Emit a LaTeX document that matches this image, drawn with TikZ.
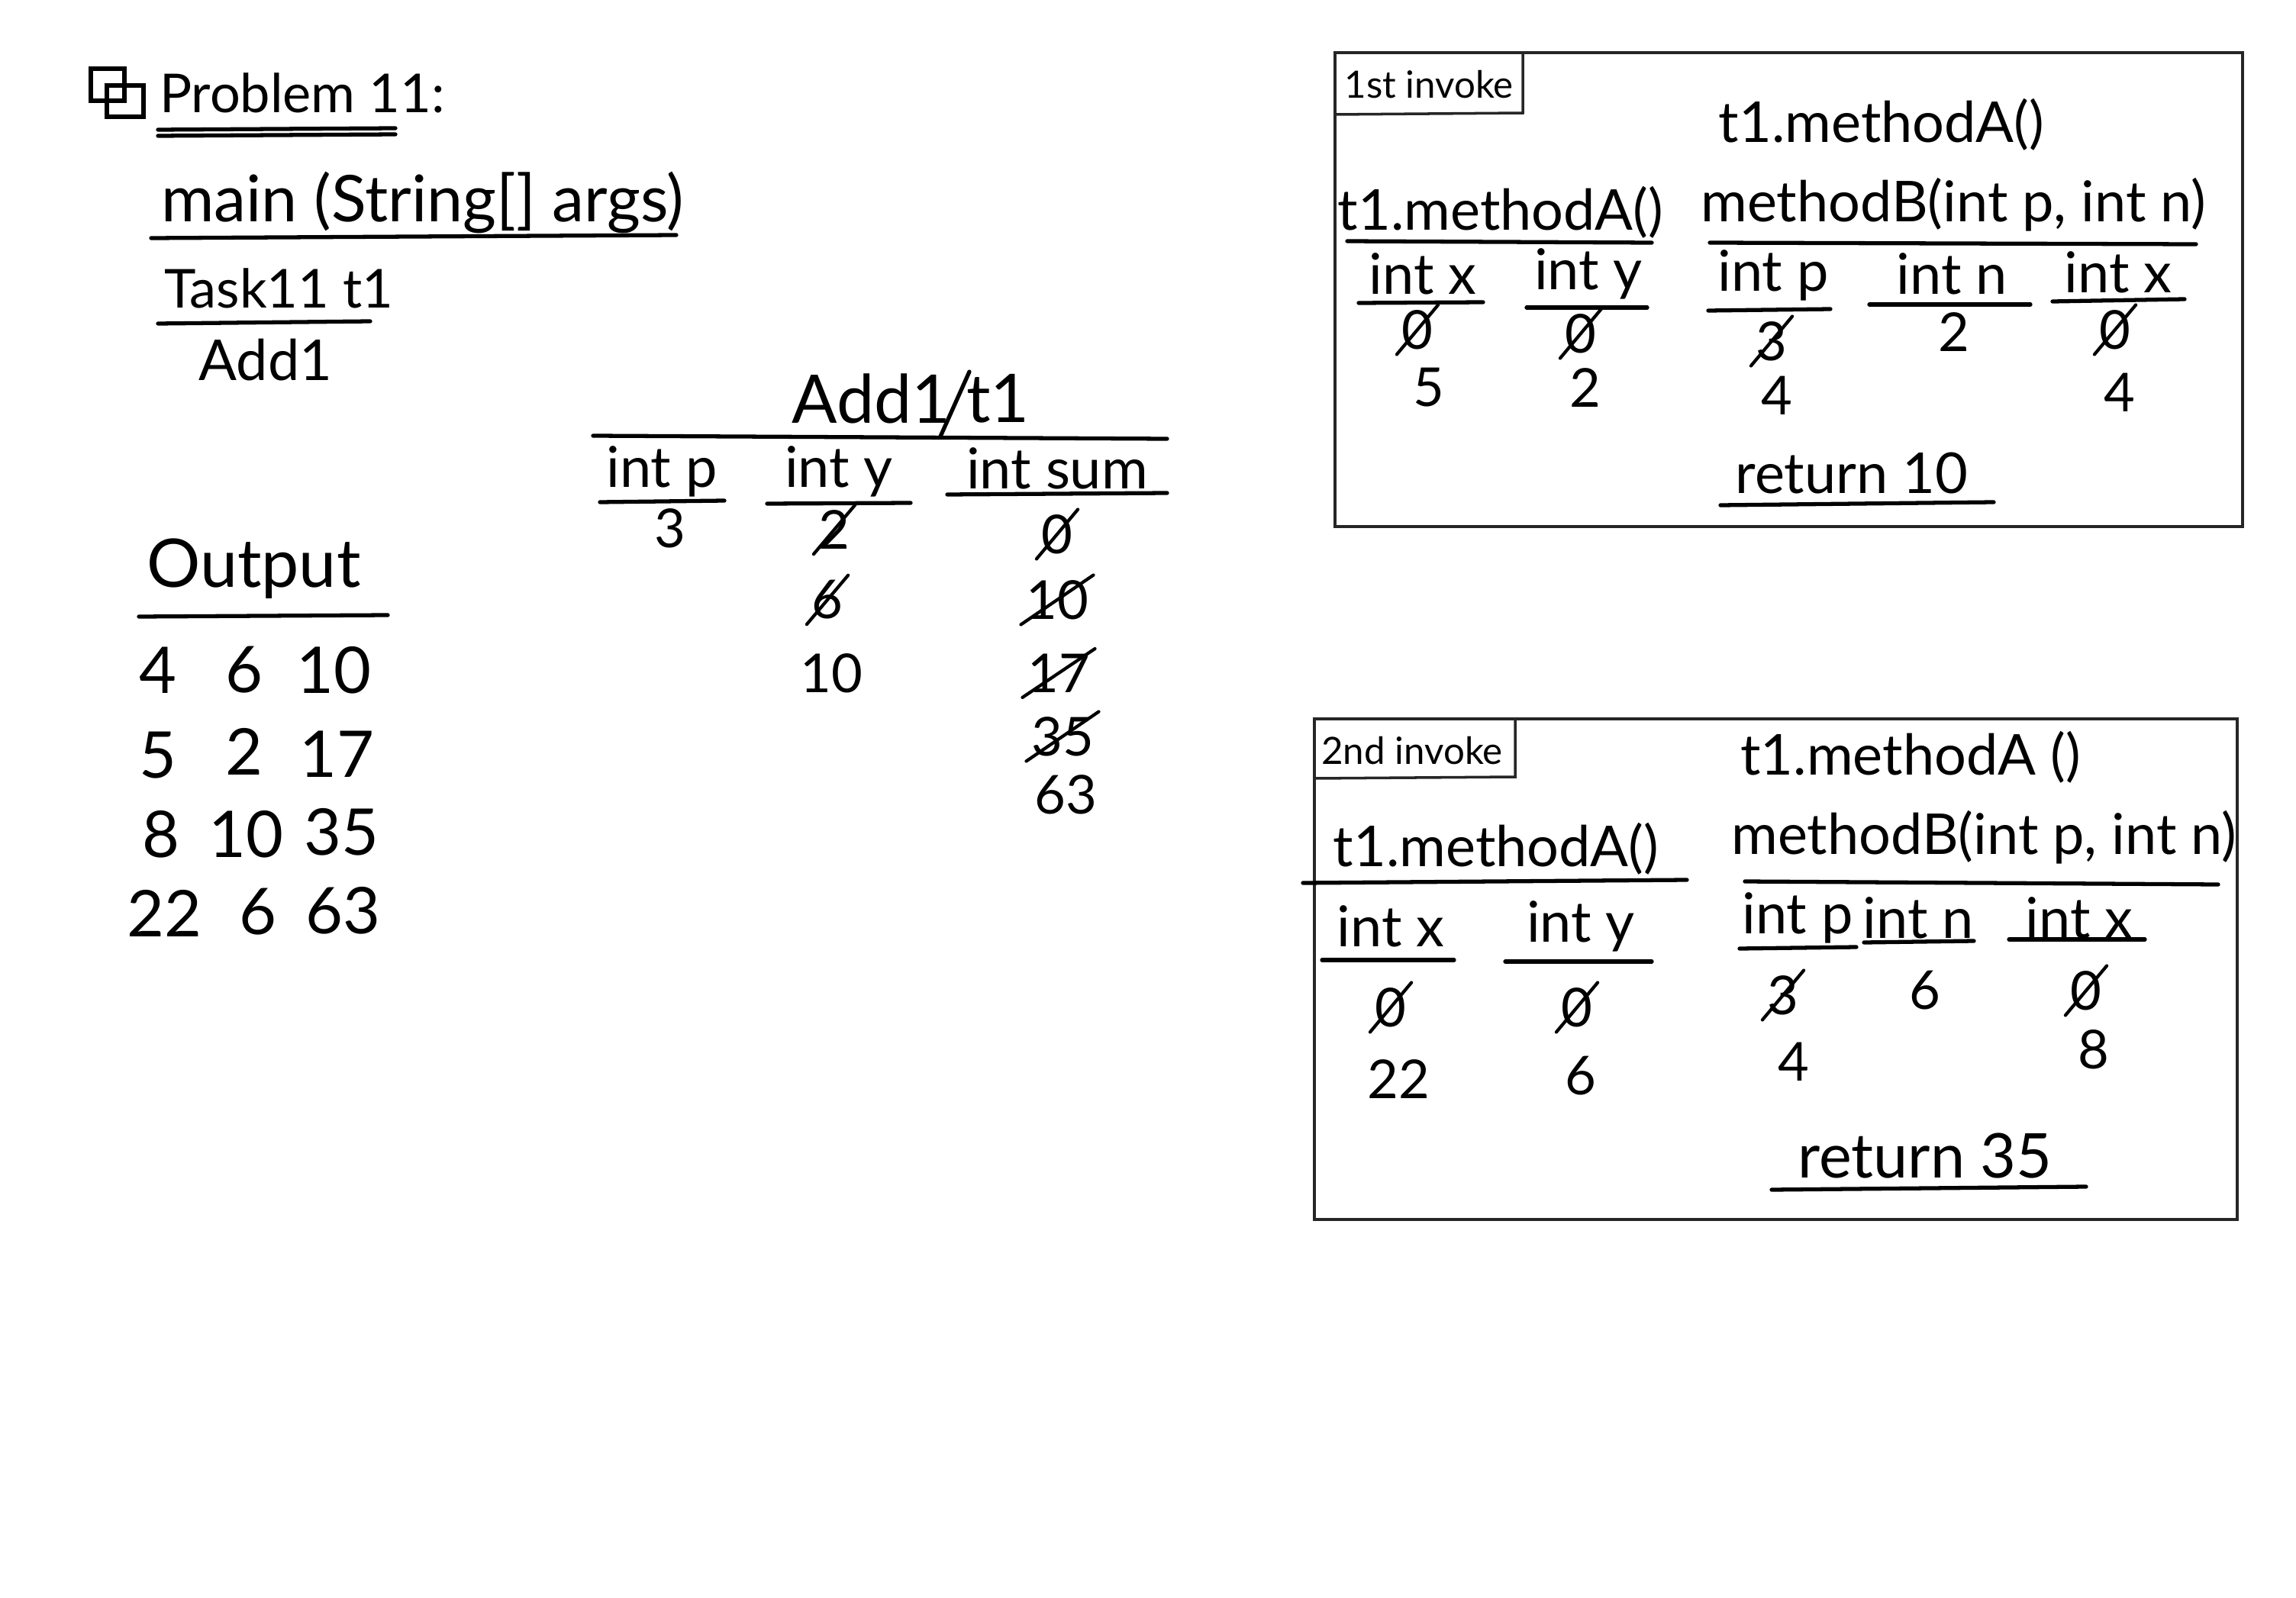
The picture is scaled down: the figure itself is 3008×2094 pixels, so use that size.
\documentclass[tikz,border=0pt]{standalone}
\usepackage{fontspec}
\setmainfont{Lato}
\newcommand\strucknum[4][val]{%
  \node[#1] (#2) at (#3) {#4};
  \draw[strk] ([shift={(-6,6)}]#2.south west) -- ([shift={(6,-6)}]#2.north east);}
\begin{document}
\begin{tikzpicture}[x=0.01cm,y=-0.01cm,
  title/.style={inner sep=1pt, font=\fontsize{21}{25}\selectfont},
  hdr/.style={inner sep=1pt, font=\fontsize{21}{25}\selectfont},
  outnum/.style={inner sep=1pt, font=\fontsize{24}{28}\selectfont},
  val/.style={inner sep=0pt, font=\fontsize{20}{24}\selectfont},
  lbl/.style={inner sep=1pt, font=\fontsize{14}{16}\selectfont},
  uline/.style={line width=1.5pt, line cap=round},
  frame/.style={line width=1.3pt, draw=black!85},
  strk/.style={line width=1.2pt, line cap=round}]
\useasboundingbox (0,0) rectangle (3008,2094);

% ---------- top left ----------
\draw[line width=1.6pt] (119,90) rectangle (163,132);
\draw[line width=1.6pt] (140,112) rectangle (188,153);
\node[title, font=\fontsize{20}{24}\selectfont, anchor=west] (prob) at (205,122) {Problem 11:};
\draw[uline] (207,170) -- (518,168);
\draw[uline] (207,178) -- (518,176);
\node[title, font=\fontsize{24}{28}\selectfont, anchor=west] (main) at (207,265) {main (String[] args)};
\draw[uline] (198,312) -- (886,308);
\node[title, font=\fontsize{20}{24}\selectfont, anchor=west] (task) at (211,378) {Task11 t1};
\draw[uline] (207,424) -- (485,421);
\node[title] (add) at (348,472) {Add1};

% ---------- output ----------
\node[title, font=\fontsize{25}{29}\selectfont, anchor=west] (out) at (188,745) {Output};
\draw[uline] (182,808) -- (508,806);
\node[outnum] (o11) at (207,878) {4};
\node[outnum] (o12) at (320,878) {6};
\node[outnum] (o13) at (437,878) {10};
\node[outnum] (o21) at (207,990) {5};
\node[outnum] (o22) at (320,985) {2};
\node[outnum] (o23) at (441,988) {17};
\node[outnum] (o31) at (211,1093) {8};
\node[outnum] (o32) at (322,1093) {10};
\node[outnum] (o33) at (447,1090) {35};
\node[outnum] (o41) at (215,1197) {22};
\node[outnum] (o42) at (338,1195) {6};
\node[outnum] (o43) at (449,1193) {63};

% ---------- Add1/t1 table ----------
\node[title, font=\fontsize{25}{29}\selectfont, anchor=east] (addh) at (1250,522) {Add1};
\node[title, font=\fontsize{25}{29}\selectfont, anchor=west] (t1h) at (1262,522) {t1};
\draw[uline] (1270,487) -- (1232,572);
\draw[uline] (777,571) -- (1529,575);
\node[hdr] (hp) at (867,618) {int p};
\draw[uline] (786,658) -- (949,656);
\node[hdr] (hy) at (1099,618) {int y};
\draw[uline] (1005,660) -- (1193,659);
\node[hdr] (hs) at (1385,614) {int sum};
\draw[uline] (1241,648) -- (1529,646);
\node[val] (v3) at (878,692) {3};
\strucknum{vy1}{1093,694}{2}
\strucknum{vs1}{1385,700}{0}
\strucknum{vy2}{1084,786}{6}
\strucknum{vs2}{1385,786}{10}
\node[val] (vy3) at (1089,882) {10};
\strucknum{vs3}{1387,882}{17}
\strucknum{vs4}{1392,965}{35}
\node[val] (vs5) at (1396,1041) {63};

% ---------- 1st invoke ----------
\draw[frame] (1749,69) rectangle (2938,690);
\draw[frame, line width=1pt] (1749,69) -- (1749,150) -- (1995,148) -- (1995,69);
\node[lbl] (inv1) at (1872,111) {1st invoke};
\node[hdr] (a1top) at (2465,163) {t1.methodA()};
\node[hdr] (a1m) at (1966,278) {t1.methodA()};
\draw[uline] (1765,316) -- (2164,318);
\node[hdr] (a1b) at (2559,268) {methodB(int p, int n)};
\draw[uline] (2240,318) -- (2877,320);
\node[hdr] (a1x) at (1864,359) {int x};
\draw[uline] (1780,397) -- (1943,396);
\node[hdr] (a1y) at (2081,359) {int y};
\draw[uline] (2000,403) -- (2158,403);
\node[hdr] (a1p) at (2323,361) {int p};
\draw[uline] (2238,407) -- (2398,405);
\node[hdr] (a1n) at (2557,359) {int n};
\draw[uline] (2449,399) -- (2660,399);
\node[hdr] (a1x2) at (2775,357) {int x};
\draw[uline] (2689,395) -- (2862,392);
\strucknum{a1v1}{1857,432}{0}
\strucknum{a1v2}{2071,437}{0}
\strucknum{a1v3}{2321,447}{3}
\node[val] (a1v4) at (2560,435) {2};
\strucknum{a1v5}{2771,432}{0}
\node[val] (a1w1) at (1872,508) {5};
\node[val] (a1w2) at (2077,508) {2};
\node[val] (a1w3) at (2328,518) {4};
\node[val] (a1w4) at (2777,514) {4};
\node[hdr] (a1r) at (2426,620) {return 10};
\draw[uline] (2254,662) -- (2612,658);

% ---------- 2nd invoke ----------
\draw[frame] (1722,942) rectangle (2931,1598);
\draw[frame, line width=1pt] (1722,942) -- (1722,1020) -- (1985,1018) -- (1985,942);
\node[lbl] (inv2) at (1850,984) {2nd invoke};
\node[hdr] (b1top) at (2503,992) {t1.methodA ()};
\node[hdr] (b1m) at (1960,1112) {t1.methodA()};
\draw[uline] (1707,1157) -- (2210,1153);
\node[hdr] (b1b) at (2599,1097) {methodB(int p, int n)};
\draw[uline] (2286,1155) -- (2906,1159);
\node[hdr] (b1x) at (1822,1214) {int x};
\draw[uline] (1732,1258) -- (1905,1258);
\node[hdr] (b1y) at (2071,1214) {int y};
\draw[uline] (1972,1260) -- (2164,1260);
\node[hdr] (b1p) at (2355,1203) {int p};
\draw[uline] (2279,1243) -- (2432,1241);
\node[hdr] (b1n) at (2513,1203) {int n};
\draw[uline] (2442,1235) -- (2586,1233);
\node[hdr] (b1x2) at (2724,1203) {int x};
\draw[uline] (2632,1231) -- (2810,1231);
\strucknum{b1v1}{1822,1320}{0}
\strucknum{b1v2}{2066,1320}{0}
\strucknum{b1v3}{2336,1304}{3}
\node[val] (b1v4) at (2522,1298) {6};
\strucknum{b1v5}{2733,1298}{0}
\node[val] (b1w1) at (1832,1414) {22};
\node[val] (b1w2) at (2071,1410) {6};
\node[val] (b1w3) at (2350,1391) {4};
\node[val] (b1w4) at (2743,1375) {8};
\node[hdr, font=\fontsize{23}{27}\selectfont] (b1r) at (2522,1515) {return 35};
\draw[uline] (2321,1559) -- (2733,1555);
\end{tikzpicture}
\end{document}
